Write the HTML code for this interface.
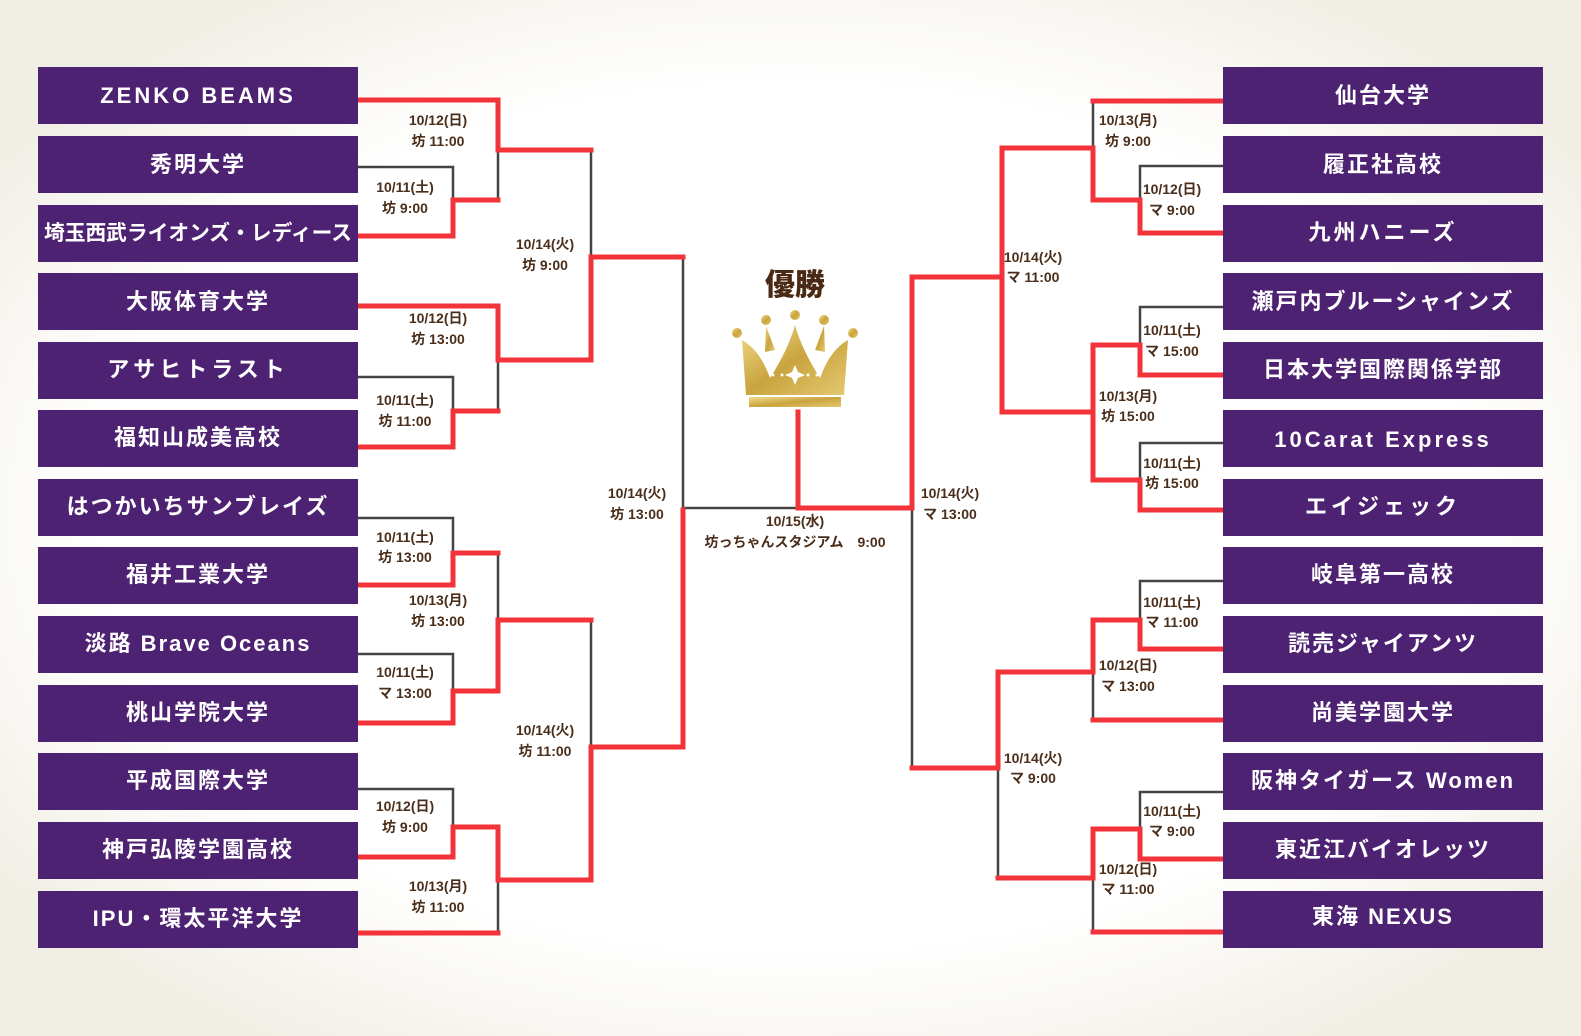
<!DOCTYPE html>
<html><head><meta charset="utf-8">
<style>
html,body{margin:0;padding:0;}
body{width:1581px;height:1036px;overflow:hidden;background:radial-gradient(ellipse 62% 60% at 50% 50%,#ffffff 70%,#f1eee5 100%);}
svg{position:absolute;left:0;top:0;}
.box{fill:#4e2272;}
.t{font-family:"Liberation Sans","Noto Sans CJK JP",sans-serif;font-weight:bold;fill:#fff;font-size:22px;letter-spacing:2px;}
.l{font-family:"Liberation Sans","Noto Sans CJK JP",sans-serif;font-weight:bold;fill:#4a2e1a;font-size:14px;}
.g{stroke:#444;stroke-width:2.5;fill:none;}
.r{stroke:#f2333a;stroke-width:5;fill:none;stroke-linejoin:miter;stroke-linecap:square;}
</style></head><body>
<svg width="1581" height="1036" viewBox="0 0 1581 1036">
<defs>
<linearGradient id="gold" x1="0" y1="0" x2="1" y2="1">
<stop offset="0" stop-color="#f3dc8c"/><stop offset="0.5" stop-color="#c9a43e"/><stop offset="1" stop-color="#e5c870"/>
</linearGradient>
</defs>
<!-- gray lines -->
<g class="g">
<polyline points="358,167 453,167 453,200"/>
<line x1="498" y1="150" x2="498" y2="200"/>
<line x1="591" y1="150" x2="591" y2="257"/>
<polyline points="358,377 453,377 453,411"/>
<line x1="498" y1="360" x2="498" y2="411"/>
<line x1="683" y1="257" x2="683" y2="508"/>
<line x1="683" y1="508" x2="798" y2="508"/>
<polyline points="358,518 453,518 453,553"/>
<line x1="498" y1="553" x2="498" y2="620"/>
<polyline points="358,654 453,654 453,691"/>
<line x1="591" y1="620" x2="591" y2="747"/>
<polyline points="358,789 453,789 453,827"/>
<line x1="498" y1="880" x2="498" y2="933"/>
<!-- right -->
<line x1="1093" y1="101" x2="1093" y2="148"/>
<polyline points="1223,166 1140,166 1140,200"/>
<line x1="1002" y1="148" x2="1002" y2="277"/>
<polyline points="1223,307 1140,307 1140,345"/>
<line x1="1093" y1="345" x2="1093" y2="412"/>
<polyline points="1223,443 1140,443 1140,480"/>
<line x1="912" y1="508" x2="912" y2="768"/>
<polyline points="1223,581 1140,581 1140,620"/>
<line x1="1093" y1="672" x2="1093" y2="720"/>
<line x1="998" y1="768" x2="998" y2="878"/>
<polyline points="1223,792 1140,792 1140,829"/>
<line x1="1093" y1="878" x2="1093" y2="932"/>
</g>
<!-- red lines -->
<g class="r">
<polyline points="358,100 498,100 498,150 591,150"/>
<polyline points="358,236 453,236 453,200 498,200"/>
<polyline points="591,360 591,257 683,257"/>
<polyline points="358,306 498,306 498,360 591,360"/>
<polyline points="358,447 453,447 453,411 498,411"/>
<polyline points="358,585 453,585 453,553 498,553"/>
<polyline points="498,691 498,620 591,620"/>
<polyline points="358,723 453,723 453,691 498,691"/>
<polyline points="591,880 591,747 683,747 683,510"/>
<polyline points="358,857 453,857 453,827 498,827 498,880 591,880"/>
<line x1="358" y1="933" x2="498" y2="933"/>
<polyline points="798,412 798,508 912,508 912,277 1002,277"/>
<!-- right -->
<polyline points="1223,101 1093,101"/>
<polyline points="1002,277 1002,148 1093,148 1093,200 1140,200 1140,233 1223,233"/>
<polyline points="1002,277 1002,412 1093,412"/>
<polyline points="1093,412 1093,345 1140,345 1140,375 1223,375"/>
<polyline points="1093,412 1093,480 1140,480 1140,510 1223,510"/>
<polyline points="912,768 998,768 998,672 1093,672 1093,620 1140,620 1140,649 1223,649"/>
<line x1="1093" y1="720" x2="1223" y2="720"/>
<polyline points="998,878 1093,878 1093,829 1140,829 1140,859 1223,859"/>
<line x1="1093" y1="932" x2="1223" y2="932"/>
</g>
<!-- boxes left -->
<g>
<rect class="box" x="38" y="67" width="320" height="57"/>
<rect class="box" x="38" y="136" width="320" height="57"/>
<rect class="box" x="38" y="205" width="320" height="57"/>
<rect class="box" x="38" y="273" width="320" height="57"/>
<rect class="box" x="38" y="342" width="320" height="57"/>
<rect class="box" x="38" y="410" width="320" height="57"/>
<rect class="box" x="38" y="479" width="320" height="57"/>
<rect class="box" x="38" y="547" width="320" height="57"/>
<rect class="box" x="38" y="616" width="320" height="57"/>
<rect class="box" x="38" y="685" width="320" height="57"/>
<rect class="box" x="38" y="753" width="320" height="57"/>
<rect class="box" x="38" y="822" width="320" height="57"/>
<rect class="box" x="38" y="891" width="320" height="57"/>
</g>
<g>
<rect class="box" x="1223" y="67" width="320" height="57"/>
<rect class="box" x="1223" y="136" width="320" height="57"/>
<rect class="box" x="1223" y="205" width="320" height="57"/>
<rect class="box" x="1223" y="273" width="320" height="57"/>
<rect class="box" x="1223" y="342" width="320" height="57"/>
<rect class="box" x="1223" y="410" width="320" height="57"/>
<rect class="box" x="1223" y="479" width="320" height="57"/>
<rect class="box" x="1223" y="547" width="320" height="57"/>
<rect class="box" x="1223" y="616" width="320" height="57"/>
<rect class="box" x="1223" y="685" width="320" height="57"/>
<rect class="box" x="1223" y="753" width="320" height="57"/>
<rect class="box" x="1223" y="822" width="320" height="57"/>
<rect class="box" x="1223" y="891" width="320" height="57"/>
</g>
<g class="t" text-anchor="middle">
<text x="198" y="103" style="letter-spacing:3px">ZENKO BEAMS</text>
<text x="198" y="172">秀明大学</text>
<text x="198" y="240" style="letter-spacing:0;font-size:21px" textLength="308" lengthAdjust="spacingAndGlyphs">埼玉西武ライオンズ・レディース</text>
<text x="198" y="309">大阪体育大学</text>
<text x="198" y="377" style="letter-spacing:4px">アサヒトラスト</text>
<text x="198" y="445">福知山成美高校</text>
<text x="198" y="514">はつかいちサンブレイズ</text>
<text x="198" y="582">福井工業大学</text>
<text x="198" y="651">淡路 Brave Oceans</text>
<text x="198" y="720">桃山学院大学</text>
<text x="198" y="788">平成国際大学</text>
<text x="198" y="857">神戸弘陵学園高校</text>
<text x="198" y="926">IPU・環太平洋大学</text>
<text x="1383" y="103">仙台大学</text>
<text x="1383" y="172">履正社高校</text>
<text x="1383" y="240" style="letter-spacing:3px">九州ハニーズ</text>
<text x="1383" y="309">瀬戸内ブルーシャインズ</text>
<text x="1383" y="377">日本大学国際関係学部</text>
<text x="1383" y="447" style="letter-spacing:3px">10Carat Express</text>
<text x="1383" y="514" style="letter-spacing:4px">エイジェック</text>
<text x="1383" y="582">岐阜第一高校</text>
<text x="1383" y="651">読売ジャイアンツ</text>
<text x="1383" y="720">尚美学園大学</text>
<text x="1383" y="788">阪神タイガース Women</text>
<text x="1383" y="857">東近江バイオレッツ</text>
<text x="1383" y="924">東海 NEXUS</text>
</g>
<g class="l" text-anchor="middle">
<text x="438" y="125">10/12(日)</text><text x="438" y="146">坊 11:00</text>
<text x="405" y="192">10/11(土)</text><text x="405" y="213">坊 9:00</text>
<text x="545" y="249">10/14(火)</text><text x="545" y="270">坊 9:00</text>
<text x="438" y="323">10/12(日)</text><text x="438" y="344">坊 13:00</text>
<text x="405" y="405">10/11(土)</text><text x="405" y="426">坊 11:00</text>
<text x="637" y="498">10/14(火)</text><text x="637" y="519">坊 13:00</text>
<text x="405" y="542">10/11(土)</text><text x="405" y="562">坊 13:00</text>
<text x="438" y="605">10/13(月)</text><text x="438" y="626">坊 13:00</text>
<text x="405" y="677">10/11(土)</text><text x="405" y="698">マ 13:00</text>
<text x="545" y="735">10/14(火)</text><text x="545" y="756">坊 11:00</text>
<text x="405" y="811">10/12(日)</text><text x="405" y="832">坊 9:00</text>
<text x="438" y="891">10/13(月)</text><text x="438" y="912">坊 11:00</text>
<text x="795" y="526">10/15(水)</text><text x="795" y="547">坊っちゃんスタジアム　9:00</text>
<text x="1128" y="125">10/13(月)</text><text x="1128" y="146">坊 9:00</text>
<text x="1172" y="194">10/12(日)</text><text x="1172" y="215">マ 9:00</text>
<text x="1033" y="262">10/14(火)</text><text x="1033" y="282">マ 11:00</text>
<text x="1172" y="335">10/11(土)</text><text x="1172" y="356">マ 15:00</text>
<text x="1128" y="401">10/13(月)</text><text x="1128" y="421">坊 15:00</text>
<text x="1172" y="468">10/11(土)</text><text x="1172" y="488">坊 15:00</text>
<text x="950" y="498">10/14(火)</text><text x="950" y="519">マ 13:00</text>
<text x="1172" y="607">10/11(土)</text><text x="1172" y="627">マ 11:00</text>
<text x="1128" y="670">10/12(日)</text><text x="1128" y="691">マ 13:00</text>
<text x="1033" y="763">10/14(火)</text><text x="1033" y="783">マ 9:00</text>
<text x="1172" y="816">10/11(土)</text><text x="1172" y="836">マ 9:00</text>
<text x="1128" y="874">10/12(日)</text><text x="1128" y="894">マ 11:00</text>
</g>
<!-- title + crown -->
<text x="795" y="295" text-anchor="middle" style="font-family:'Liberation Sans','Noto Sans CJK JP',sans-serif;font-weight:900;font-size:30px;fill:#4a2a14">優勝</text>
<g fill="url(#gold)">
<circle cx="737" cy="333" r="5"/><circle cx="766" cy="320" r="5"/><circle cx="795" cy="315" r="5"/><circle cx="824" cy="320" r="5"/><circle cx="853" cy="333" r="5"/>
<polygon points="766,326 775,350 765,352"/>
<polygon points="824,326 825,352 815,350"/>
<path d="M742,340 Q760,350 770,378 Q788,350 795,325 Q802,350 820,378 Q830,350 848,340 L844,395 L746,395 Z"/>
<rect x="758" y="395" width="0" height="0"/>
<rect x="749" y="397" width="92" height="10"/>
</g>
<g fill="#fff">
<polygon points="795,365 798,372 805,375 798,378 795,385 792,378 785,375 792,372"/>
<circle cx="773" cy="375" r="1.5"/><circle cx="782" cy="375" r="1.5"/><circle cx="808" cy="375" r="1.5"/><circle cx="817" cy="375" r="1.5"/>
</g>
</svg>
</body></html>
